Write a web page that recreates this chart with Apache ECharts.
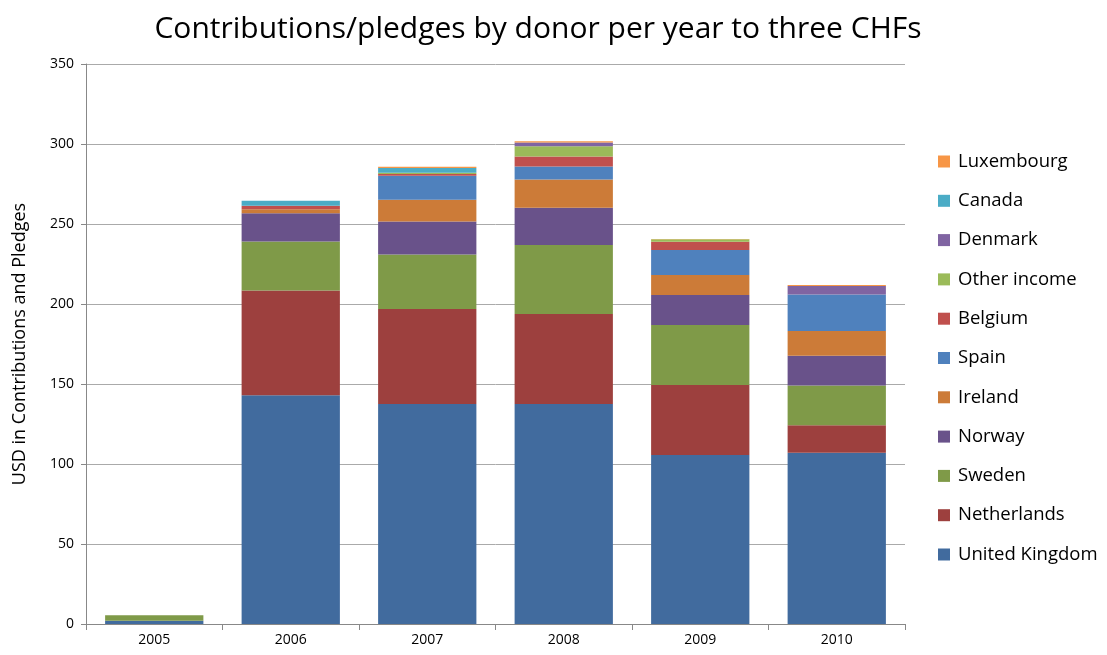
<!DOCTYPE html>
<html><head><meta charset="utf-8">
<script src="https://cdn.jsdelivr.net/npm/echarts@6/dist/echarts.min.js"></script>
<style>html,body{margin:0;padding:0;background:#fff}#c{width:1107px;height:655px}</style>
</head><body><div id="c"></div>
<script>
const years = ['2005','2006','2007','2008','2009','2010'];
const unitedKingdom = [2, 143, 137.5, 137.5, 105.6, 107];
const netherlands   = [0, 65.5, 59.4, 56.2, 43.8, 17.2];
const sweden        = [3.5, 30.6, 34.1, 43.1, 37.5, 24.8];
const norway        = [0, 17.6, 20.6, 23.3, 18.7, 18.7];
const ireland       = [0, 2.5, 13.6, 17.7, 12.5, 15.4];
const spain         = [0, 0, 15, 8.1, 15.6, 22.9];
const belgium       = [0, 2.2, 1.1, 6.3, 5.2, 0];
const otherIncome   = [0, 0, 0.8, 6.4, 1.5, 0];
const denmark       = [0, 0, 0, 2.3, 0, 5.2];
const canada        = [0, 3.2, 2.9, 0, 0, 0];
const luxembourg    = [0, 0, 0.8, 0.8, 0.3, 0.6];
const yTicks = [0, 50, 100, 150, 200, 250, 300, 350];

const seriesDefs = [
  ['United Kingdom', unitedKingdom, '#416B9E'],
  ['Netherlands', netherlands, '#9D403E'],
  ['Sweden', sweden, '#7F9A48'],
  ['Norway', norway, '#69528A'],
  ['Ireland', ireland, '#CC7B38'],
  ['Spain', spain, '#4F81BD'],
  ['Belgium', belgium, '#C0504D'],
  ['Other income', otherIncome, '#9BBB59'],
  ['Denmark', denmark, '#8064A2'],
  ['Canada', canada, '#4BACC6'],
  ['Luxembourg', luxembourg, '#F79646']
];

const chart = echarts.init(document.getElementById('c'), null, {renderer: 'canvas'});
const font = 'Open Sans, Liberation Sans, sans-serif';
chart.setOption({
  animation: false,
  title: {
    text: 'Contributions/pledges by donor per year to three CHFs',
    left: 533, top: 9, textAlign: 'center',
    textStyle: {fontFamily: font, fontSize: 30, fontWeight: 'normal', color: '#000'}
  },
  legend: {
    orient: 'vertical', left: 933, top: 147,
    itemWidth: 12, itemHeight: 12, itemGap: 20.3,
    icon: 'rect',
    data: seriesDefs.map(s => s[0]).reverse(),
    textStyle: {fontFamily: font, fontSize: 18.5, color: '#000', padding: [0, 0, 0, 3]}
  },
  grid: {left: 86, right: 202, top: 64, bottom: 31, containLabel: false},
  xAxis: {
    type: 'category', data: years,
    axisLine: {lineStyle: {color: '#888'}},
    axisTick: {show: true, length: 6, lineStyle: {color: '#888'}},
    axisLabel: {fontFamily: font, fontSize: 14, color: '#000', margin: 9}
  },
  yAxis: {
    type: 'value', min: yTicks[0], max: yTicks[yTicks.length - 1], interval: 50,
    name: 'USD in Contributions and Pledges', nameLocation: 'middle', nameGap: 57,
    nameTextStyle: {fontFamily: font, fontSize: 18, color: '#000'},
    axisLine: {show: true, lineStyle: {color: '#888'}},
    axisTick: {show: true, length: 5, lineStyle: {color: '#888'}},
    axisLabel: {fontFamily: font, fontSize: 14, color: '#000', margin: 12},
    splitLine: {lineStyle: {color: '#aaa'}}
  },
  series: seriesDefs.map(([name, data, color]) => ({
    name, type: 'bar', stack: 'total', data, barWidth: '72%',
    itemStyle: {color},
    emphasis: {disabled: true}
  }))
});
</script></body></html>
